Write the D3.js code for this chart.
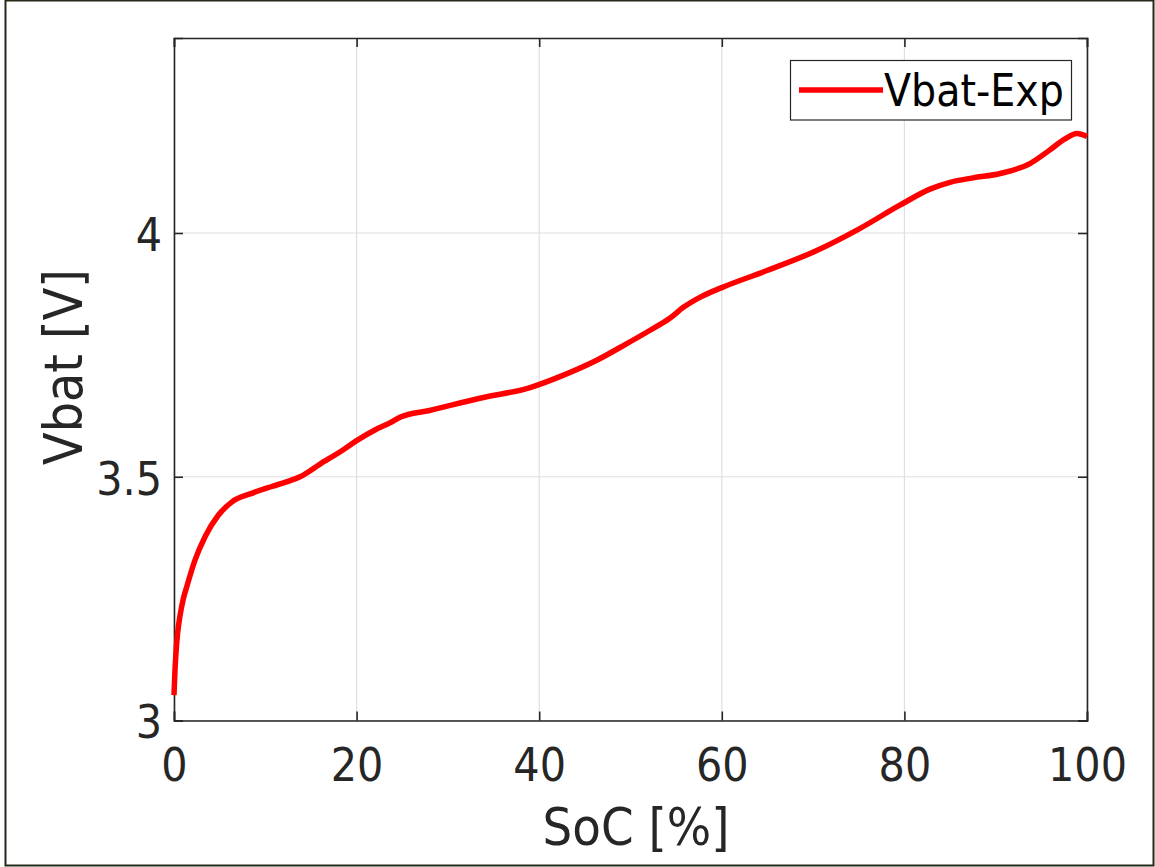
<!DOCTYPE html>
<html>
<head>
<meta charset="utf-8">
<script src="https://cdn.jsdelivr.net/npm/d3@7"></script>
<style>
  body { margin: 0; background: #fff; }
  text { font-family: "DejaVu Sans Condensed", "DejaVu Sans", sans-serif; }
</style>
</head>
<body>
<div id="chart"></div>
<script>
// SoC [%] and measured battery voltage [V]
const soc = [0, 0.1, 0.19, 0.4, 0.66, 1.0, 1.39, 2.3, 3.4, 4.85, 6.32, 8.51, 10.7, 12.4, 13.8, 16, 18.5, 20.0, 22, 23.7, 24.75, 28.0, 33.5, 39.0, 42.6, 46.3, 49.5, 52.1, 54.3, 55.75, 57.6, 60.0, 64.95, 70.4, 75.1, 79.5, 82.8, 85, 87.5, 90.5, 93.8, 95.9, 97.5, 98.9, 100]
const vbat = [3.052, 3.10, 3.131, 3.18, 3.215, 3.248, 3.274, 3.329, 3.377, 3.421, 3.448, 3.466, 3.48, 3.49, 3.50, 3.526, 3.555, 3.574, 3.596, 3.611, 3.622, 3.636, 3.661, 3.683, 3.708, 3.739, 3.772, 3.80, 3.825, 3.847, 3.868, 3.888, 3.923, 3.964, 4.009, 4.057, 4.09, 4.104, 4.113, 4.122, 4.143, 4.17, 4.192, 4.204, 4.198]
const xTicks = [0, 20, 40, 60, 80, 100]
const yTicks = [3, 3.5, 4]
const legendLabel = 'Vbat-Exp'

const width = 1155
const height = 867
const axisColor = '#262626'

const data = soc.map((s, i) => ({ s: s, v: vbat[i] }))

const svg = d3.select('#chart')
  .append('svg')
  .attr('width', width)
  .attr('height', height)

// outer frame
svg.append('rect')
  .attr('x', 5.5).attr('y', 0.5)
  .attr('width', 1148).attr('height', 865)
  .attr('fill', 'none')
  .attr('stroke', '#232a17')
  .attr('stroke-width', 2)

const x = d3.scaleLinear().domain([0, 100]).range([174, 1087])
const y = d3.scaleLinear().domain([3, 4.4]).range([720.5, 38])

// grid
const grid = svg.append('g').attr('stroke', '#dfdfdf').attr('stroke-width', 1.2)
grid.selectAll('.gx').data(xTicks).enter().append('line')
  .attr('x1', d => x(d)).attr('x2', d => x(d))
  .attr('y1', y.range()[0]).attr('y2', y.range()[1])
grid.selectAll('.gy').data(yTicks).enter().append('line')
  .attr('y1', d => y(d)).attr('y2', d => y(d))
  .attr('x1', x.range()[0]).attr('x2', x.range()[1])

// axes (ticks pointing in, mirrored on top/right)
const tickLen = 9
const fmt = d => d3.format('~g')(d)

const xBottom = svg.append('g')
  .attr('transform', `translate(0,${y.range()[0]})`)
  .call(d3.axisBottom(x).tickValues(xTicks).tickSize(-tickLen).tickPadding(28).tickFormat(fmt))
const xTop = svg.append('g')
  .attr('transform', `translate(0,${y.range()[1]})`)
  .call(d3.axisTop(x).tickValues(xTicks).tickSize(-tickLen).tickFormat(''))
const yLeft = svg.append('g')
  .attr('transform', `translate(${x.range()[0]},0)`)
  .call(d3.axisLeft(y).tickValues(yTicks).tickSize(-tickLen).tickPadding(12).tickFormat(fmt))
const yRight = svg.append('g')
  .attr('transform', `translate(${x.range()[1]},0)`)
  .call(d3.axisRight(y).tickValues(yTicks).tickSize(-tickLen).tickFormat(''))

;[xBottom, xTop, yLeft, yRight].forEach(g => {
  g.select('.domain').attr('stroke', axisColor).attr('stroke-width', 1.6)
  g.selectAll('.tick line').attr('stroke', axisColor).attr('stroke-width', 1.6)
  g.selectAll('.tick text')
    .attr('fill', axisColor)
    .style('font-size', '46px')
})
yLeft.selectAll('.tick text').attr('dy', '0.38em')

// curve
const line = d3.line()
  .x(d => x(d.s))
  .y(d => y(d.v))
  .curve(d3.curveMonotoneX)

svg.append('path')
  .datum(data)
  .attr('d', line)
  .attr('fill', 'none')
  .attr('stroke', '#ff0000')
  .attr('stroke-width', 5.5)
  .attr('stroke-linejoin', 'round')

// axis labels
svg.append('text')
  .attr('x', 636).attr('y', 845)
  .attr('text-anchor', 'middle')
  .attr('fill', axisColor)
  .style('font-size', '52px')
  .text('SoC [%]')

svg.append('text')
  .attr('transform', 'translate(82,367) rotate(-90)')
  .attr('text-anchor', 'middle')
  .attr('fill', axisColor)
  .style('font-size', '53px')
  .text('Vbat [V]')

// legend
const legend = svg.append('g')
legend.append('rect')
  .attr('x', 790.5).attr('y', 60.5)
  .attr('width', 281).attr('height', 59.5)
  .attr('fill', '#fff')
  .attr('stroke', axisColor)
  .attr('stroke-width', 1.2)
legend.append('line')
  .attr('x1', 799).attr('x2', 883)
  .attr('y1', 90).attr('y2', 90)
  .attr('stroke', '#ff0000')
  .attr('stroke-width', 5.5)
legend.append('text')
  .attr('x', 884).attr('y', 106)
  .attr('fill', '#000')
  .style('font-size', '44px')
  .text(legendLabel)
</script>
</body>
</html>
